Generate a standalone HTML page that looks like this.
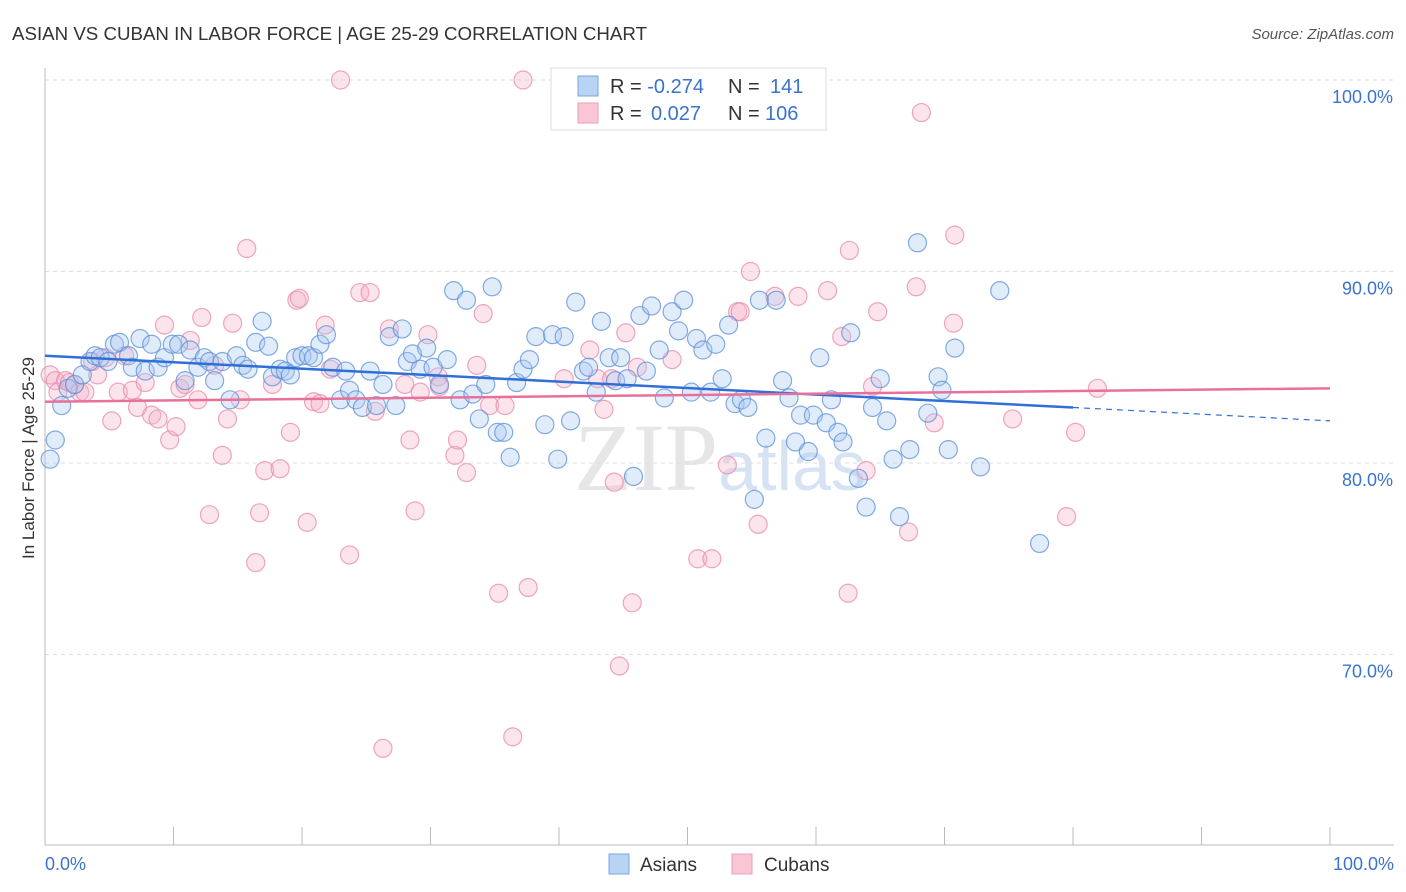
<!DOCTYPE html>
<html><head><meta charset="utf-8"><style>
body{margin:0;background:#fff;font-family:"Liberation Sans",sans-serif;}
svg{display:block}
</style></head><body>
<svg id="chart" width="1406" height="892">
<text x="12" y="40" font-size="18.5" fill="#333" textLength="635" lengthAdjust="spacingAndGlyphs">ASIAN VS CUBAN IN LABOR FORCE | AGE 25-29 CORRELATION CHART</text>
<text x="1394" y="39" font-size="15" fill="#555" text-anchor="end" font-style="italic">Source: ZipAtlas.com</text>
<text x="720" y="490" font-size="96" fill="#e6e6e6" text-anchor="middle" font-family="Liberation Serif">ZIP<tspan fill="#d6e3f3" font-family="Liberation Sans" font-size="70">atlas</tspan></text>
<g id="grid"></g><g id="axes"></g><g id="pts"></g><g id="trend"></g>
<text transform="translate(34,458) rotate(-90)" font-size="17" fill="#333" text-anchor="middle">In Labor Force | Age 25-29</text>
<g>
<rect x="551" y="68" width="275" height="62" fill="#fff" stroke="#ddd"/>
<rect x="578" y="76" width="20" height="20" fill="#b9d3f5" stroke="#7aa6e0"/>
<rect x="578" y="103" width="20" height="20" fill="#f8c6d5" stroke="#eaa0b8"/>
<text x="610" y="93" font-size="20" fill="#333">R = <tspan fill="#3a73cf">-0.274</tspan><tspan x="728">N = </tspan><tspan fill="#3a73cf" x="770">141</tspan></text>
<text x="610" y="120" font-size="20" fill="#333">R = <tspan fill="#3a73cf" x="651">0.027</tspan><tspan x="728">N = </tspan><tspan fill="#3a73cf" x="765">106</tspan></text>
</g>
<g>
<rect x="609" y="854" width="20" height="20" fill="#b9d3f5" stroke="#7aa6e0"/>
<text x="640" y="871" font-size="19" fill="#333">Asians</text>
<rect x="732" y="854" width="20" height="20" fill="#f8c6d5" stroke="#eaa0b8"/>
<text x="764" y="871" font-size="19" fill="#333">Cubans</text>
</g>
</svg>
<script>
const yTicks=[100,90,80,70];
const yTickLabels=["100.0%","90.0%","80.0%","70.0%"];
const xTickLabels=["0.0%","100.0%"];
const asianX=[0.4,0.8,1.3,1.8,2.3,2.9,3.5,3.9,4.3,4.9,5.4,5.8,6.5,6.8,7.4,7.8,8.3,8.8,9.3,9.9,10.4,10.9,11.3,11.9,12.4,12.8,13.2,13.8,14.4,14.9,15.4,15.8,16.4,16.9,17.4,17.7,18.3,18.7,19.1,19.5,20.0,20.5,20.9,21.4,21.9,22.4,23.0,23.4,23.7,24.2,24.7,25.3,25.8,26.3,26.8,27.3,27.8,28.2,28.6,29.2,29.7,30.2,30.7,31.3,31.8,32.3,32.8,33.3,33.8,34.3,34.8,35.2,35.7,36.2,36.7,37.2,37.7,38.2,38.9,39.5,39.9,40.4,40.9,41.3,41.9,42.3,42.9,43.3,43.9,44.4,44.8,45.3,45.8,46.3,46.8,47.2,47.8,48.2,48.8,49.3,49.7,50.3,50.7,51.2,51.8,52.2,52.7,53.2,53.7,54.2,54.7,55.2,55.6,56.1,56.9,57.4,57.9,58.4,58.8,59.4,59.8,60.3,60.8,61.2,61.7,62.1,62.7,63.3,63.9,64.4,65.0,65.5,66.0,66.5,67.3,67.9,68.7,69.5,69.8,70.3,70.8,72.8,74.3,77.4];
const asianY=[80.2,81.2,83.0,83.9,84.1,84.6,85.3,85.6,85.5,85.3,86.2,86.3,85.6,85.0,86.5,84.8,86.2,85.0,85.5,86.2,86.2,84.3,85.9,85.0,85.5,85.3,84.3,85.3,83.3,85.6,85.1,84.9,86.3,87.4,86.1,84.5,84.9,84.8,84.6,85.5,85.6,85.6,85.5,86.2,86.7,85.0,83.3,84.8,83.8,83.3,82.9,84.8,83.0,84.1,86.6,83.0,87.0,85.3,85.7,84.9,86.0,85.0,84.1,85.4,89.0,83.3,88.5,83.6,82.3,84.1,89.2,81.6,81.6,80.3,84.2,84.9,85.4,86.6,82.0,86.7,80.2,86.6,82.2,88.4,84.8,85.0,83.7,87.4,85.5,84.3,85.5,84.4,79.3,87.7,84.8,88.2,85.9,83.4,87.9,86.9,88.5,83.7,86.5,85.9,83.7,86.2,84.4,87.2,83.1,83.3,82.9,78.1,88.5,81.3,88.5,84.3,83.4,81.1,82.5,80.6,82.5,85.5,82.1,83.3,81.6,81.1,86.8,79.2,77.7,82.9,84.4,82.2,80.2,77.2,80.7,91.5,82.6,84.5,83.8,80.7,86.0,79.8,89.0,75.8];
const cubanX=[0.4,0.8,1.0,1.6,1.9,2.3,2.7,3.1,3.7,4.1,4.7,5.2,5.7,6.2,6.8,7.2,7.8,8.3,8.8,9.3,9.7,10.2,10.5,10.9,11.3,11.9,12.2,12.8,13.2,13.8,14.2,14.6,15.2,15.7,16.4,16.7,17.1,17.7,18.3,19.1,19.6,19.8,20.4,20.9,21.4,21.8,22.2,23.0,23.7,24.5,25.3,25.7,26.8,28.0,28.4,28.8,29.2,29.8,30.6,30.7,31.9,32.1,32.8,33.6,34.1,34.6,35.3,35.8,36.4,37.2,37.6,40.4,42.4,43.0,43.5,44.1,44.3,44.7,45.2,45.7,46.1,48.8,50.8,51.9,53.1,53.9,54.1,54.9,55.5,56.8,58.6,60.9,62.0,62.6,62.5,63.9,64.4,64.8,67.2,67.8,68.2,69.2,70.7,70.8,75.3,79.5,80.2,81.9,26.3];
const cubanY=[84.6,84.3,83.7,84.3,84.2,84.1,83.7,83.7,85.3,84.6,85.5,82.2,83.7,85.6,83.8,82.9,84.2,82.5,82.3,87.2,81.2,81.9,83.9,84.1,86.4,83.3,87.6,77.3,85.1,80.4,82.3,87.3,83.3,91.2,74.8,77.4,79.6,84.1,79.7,81.6,88.5,88.6,76.9,83.2,83.1,87.2,84.9,100.0,75.2,88.9,88.9,82.7,87.0,84.1,81.2,77.5,83.7,86.7,84.5,84.0,80.4,81.2,79.5,85.1,87.8,83.0,73.2,83.0,65.7,100.0,73.5,84.4,85.9,84.4,82.8,84.4,79.0,69.4,86.8,72.7,85.0,85.4,75.0,75.0,79.9,87.9,87.9,90.0,76.8,88.7,88.7,89.0,86.6,91.1,73.2,79.6,84.0,87.9,76.4,89.2,98.3,82.1,87.3,91.9,82.3,77.2,81.6,83.9,65.1];
const asianTrendX=[0,80,100];
const asianTrendY=[85.6,82.9,82.2];
const cubanTrendX=[0,100];
const cubanTrendY=[83.2,83.9];

const NS="http://www.w3.org/2000/svg";
const X0=45,X1=1330,Y100=80,PXP=19.15,BOT=845;
const xs=v=>X0+(X1-X0)*v/100;
const ys=v=>Y100+(100-v)*PXP;
function mk(tag,attrs,parent){const e=document.createElementNS(NS,tag);for(const k in attrs)e.setAttribute(k,attrs[k]);parent.appendChild(e);return e;}
const grid=document.getElementById('grid'),axes=document.getElementById('axes'),pts=document.getElementById('pts'),tr=document.getElementById('trend');
yTicks.forEach((t,i)=>{
 const l=mk('line',{x1:X0,x2:1394,y1:ys(t),y2:ys(t),stroke:'#ddd','stroke-dasharray':'4,4'},grid);
 
 
 const tx=mk('text',{x:1393,y:ys(t)+23,'font-size':18,fill:'#3a73cf','text-anchor':'end'},axes);
 tx.textContent=yTickLabels[i];
 
 
});
const ax=mk('line',{x1:X0,x2:X0,y1:68,y2:BOT,stroke:'#bbb'},axes);


const bx=mk('line',{x1:X0,x2:1394,y1:BOT,y2:BOT,stroke:'#bbb'},axes);


for(let i=0;i<=10;i++){
 const t=mk('line',{x1:xs(i*10),x2:xs(i*10),y1:BOT,y2:BOT-18,stroke:'#bbb'},axes);
 
 
}
[[0,'start',45],[100,'end',1394]].forEach(([v,a,px],i)=>{
 const t=mk('text',{x:px,y:870,'font-size':18,fill:'#3a73cf','text-anchor':a},axes);
 t.textContent=xTickLabels[i];
 
 
});
function dots(X,Y,fill,stroke,name){
 X.forEach((x,i)=>{
  const c=mk('circle',{cx:xs(x),cy:ys(Y[i]),r:9,fill:fill,'fill-opacity':0.35,stroke:stroke,'stroke-width':1.2,'stroke-opacity':0.75},pts);
  
  
 });
}
dots(cubanX,cubanY,'#f5b3c8','#e88aa8','cuban-point');
dots(asianX,asianY,'#a9c8f0','#5b8fd8','asian-point');
const a1=mk('line',{x1:xs(asianTrendX[0]),y1:ys(asianTrendY[0]),x2:xs(asianTrendX[1]),y2:ys(asianTrendY[1]),stroke:'#2f6fd6','stroke-width':2.5},tr);


const a2=mk('line',{x1:xs(asianTrendX[1]),y1:ys(asianTrendY[1]),x2:xs(asianTrendX[2]),y2:ys(asianTrendY[2]),stroke:'#2f6fd6','stroke-width':1.2,'stroke-dasharray':'6,5'},tr);


const c1=mk('line',{x1:xs(cubanTrendX[0]),y1:ys(cubanTrendY[0]),x2:xs(cubanTrendX[1]),y2:ys(cubanTrendY[1]),stroke:'#e8709a','stroke-width':2.5},tr);


</script>
</body></html>
